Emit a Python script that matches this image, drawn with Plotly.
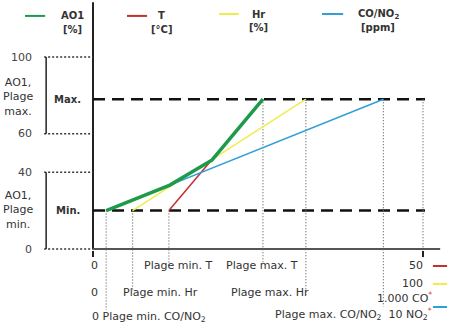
import plotly.graph_objects as go

# ---------------- data ----------------
series = ["AO1", "T", "Hr", "CO/NO2"]
legend_titles = ["AO1", "T", "Hr", "CO/NO<sub>2</sub>"]
legend_units = ["[%]", "[°C]", "[%]", "[ppm]"]
colors = ["#1d9a4b", "#c4312c", "#f0ec4e", "#2f9fd6"]

ao1_min = 20
ao1_max = 78
y_ticks = [0, 40, 60, 100]

# x positions (abstract input scale, 0..100)
t_x = [23, 51.5]
t_y = [ao1_min, ao1_max]
hr_x = [12, 64.5]
hr_y = [ao1_min, ao1_max]
co_x = [4, 88]
co_y = [ao1_min, ao1_max]
ao1_x = [4, 23.3, 36.1, 51.5]
ao1_y = [20, 33.3, 46.4, 78]
x_end = 100

range_end_labels = ["50", "100", "1.000 CO", "10 NO<sub>2</sub>"]

# ---------------- figure ----------------
fig = go.Figure()
TXT = "#333333"
FONT = "DejaVu Sans"

shapes = []
ann = []

def seg(x0, y0, x1, y1, color, width, dash="solid", layer="below"):
    shapes.append(dict(type="line", xref="x", yref="y", x0=x0, y0=y0, x1=x1, y1=y1,
                       line=dict(color=color, width=width, dash=dash), layer=layer))

def text(x, y, s, size=11, xanchor="center", bold=False, color=TXT):
    if bold:
        s = "<b>" + s + "</b>"
    ann.append(dict(x=x, y=y, xref="x", yref="y", text=s, showarrow=False,
                    xanchor=xanchor, yanchor="middle",
                    font=dict(family=FONT, size=size, color=color)))

# axes
seg(0, 128.5, 0, 0, "#222222", 2)
seg(0, 0, 105.2, 0, "#555555", 2)
seg(0, -1, 0, -4.2, "#222222", 2)
seg(x_end, -1, x_end, -4.2, "#222222", 2)

# dashed min / max lines
for lvl in [ao1_min, ao1_max]:
    seg(0, lvl, 100.6, lvl, "#111111", 2.5, dash="12px,7px")

# dotted verticals
dot = "1px,2px"
seg(co_x[0], ao1_min, co_x[0], -31.8, "#666666", 1.2, dot)
seg(hr_x[0], ao1_min, hr_x[0], -21.4, "#666666", 1.2, dot)
seg(t_x[0], ao1_min, t_x[0], -9.5, "#666666", 1.2, dot)
seg(t_x[1], ao1_max, t_x[1], -7, "#666666", 1.2, dot)
seg(hr_x[1], ao1_max, hr_x[1], -24, "#666666", 1.2, dot)
seg(co_x[1], ao1_max, co_x[1], -30, "#666666", 1.2, dot)
seg(x_end, ao1_max, x_end, 0, "#666666", 1.2, dot)

# left y ticks with dotted leaders and brackets
for v in y_ticks:
    seg(-14.8, v, 0, v, "#333333", 1.5, "2px,2px")
    text(-18.0, v, str(v), size=11, xanchor="right", color="#444444")
seg(-14.2, 100, -14.2, 60, "#222222", 1.5)
seg(-14.2, 40, -14.2, 0, "#222222", 1.5)

text(-22.6, 79.2, "AO1,<br>Plage<br>max.", size=11)
text(-22.6, 20.3, "AO1,<br>Plage<br>min.", size=11)
text(-7.7, ao1_max, "Max.", size=10, bold=True)
text(-7.7, ao1_min, "Min.", size=10, bold=True)

# legend (manual)
leg_line_x = [(-20.6, -14.5), (10.3, 16.4), (38.2, 44.2), (69.4, 75.8)]
leg_text_x = [-6.1, 20.9, 50.0, 86.4]
leg_y = [121.4, 121.4, 122.4, 122.4]
for i in range(4):
    seg(leg_line_x[i][0], leg_y[i], leg_line_x[i][1], leg_y[i], colors[i], 2)
    text(leg_text_x[i], leg_y[i], legend_titles[i], size=10, bold=True)
    text(leg_text_x[i], leg_y[i] - 7, legend_units[i], size=10, bold=True)

# bottom labels
star = "<sup><span style='color:#e53935'>*</span></sup>"
text(0.6, -8.85, "0")
text(0.6, -22.4, "0")
text(-0.9, -35.4, "0 Plage min. CO/NO<sub>2</sub>", xanchor="left")
text(25.8, -8.85, "Plage min. T")
text(20.6, -22.4, "Plage min. Hr")
text(51.2, -8.85, "Plage max. T")
text(53.5, -22.4, "Plage max. Hr")
text(100.6, -8.85, range_end_labels[0], xanchor="right")
text(100.6, -18.2, range_end_labels[1], xanchor="right")
text(103.4, -25.5, range_end_labels[2] + star, xanchor="right")
text(103.4, -33.9, "Plage max. CO/NO<sub>2</sub>  " + range_end_labels[3] + star, xanchor="right")
seg(103, -8.85, 107.3, -8.85, colors[1], 2)
seg(103, -18.2, 107.3, -18.2, colors[2], 2)
seg(103, -30.2, 107.3, -30.2, colors[3], 2)

# data lines
fig.add_trace(go.Scatter(x=t_x, y=t_y, mode="lines", line=dict(color=colors[1], width=1.5), hoverinfo="skip"))
fig.add_trace(go.Scatter(x=hr_x, y=hr_y, mode="lines", line=dict(color=colors[2], width=1.5), hoverinfo="skip"))
fig.add_trace(go.Scatter(x=co_x, y=co_y, mode="lines", line=dict(color=colors[3], width=1.5), hoverinfo="skip"))
fig.add_trace(go.Scatter(x=ao1_x, y=ao1_y, mode="lines", line=dict(color=colors[0], width=3.5), hoverinfo="skip"))

fig.update_layout(
    width=460, height=327, autosize=False,
    margin=dict(l=0, r=0, t=0, b=0, pad=0),
    paper_bgcolor="white", plot_bgcolor="white",
    showlegend=False,
    xaxis=dict(range=[-28.18, 111.21], visible=False, fixedrange=True),
    yaxis=dict(range=[-40.625, 129.69], visible=False, fixedrange=True),
    shapes=shapes, annotations=ann,
)
fig.write_html("out.html")
